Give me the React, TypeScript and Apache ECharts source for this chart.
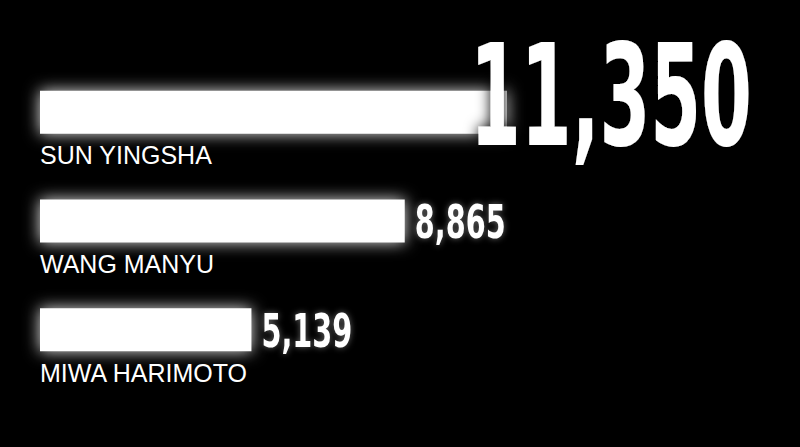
import React, { useEffect, useRef } from "react";
import * as echarts from "echarts";

const players = ["SUN YINGSHA", "WANG MANYU", "MIWA HARIMOTO"];
const points = [11350, 8865, 5139];
const axisMax = 17500;

export default function App() {
  const ref = useRef<HTMLDivElement>(null);
  useEffect(() => {
    const chart = echarts.init(ref.current!, null, { renderer: "svg" });
    const data = points.map((v, i) => [v, i]);
    const numFont = "'DejaVu Sans Condensed', 'DejaVu Sans', sans-serif";
    chart.setOption({
      animation: false,
      backgroundColor: "#000",
      grid: { left: 40, right: 40, top: 58, height: 326 },
      xAxis: { type: "value", min: 0, max: axisMax, show: false },
      yAxis: { type: "category", data: players, inverse: true, show: false },
      series: [
        {
          type: "custom",
          data,
          encode: { x: 0, y: 1 },
          renderItem: (params: any, api: any) => {
            const i = api.value(1);
            const v = api.value(0);
            const s = api.coord([0, i]);
            const e = api.coord([v, i]);
            const h = 43;
            const big = params.dataIndex === 0;
            const txt = Number(v).toLocaleString("en-US");
            return {
              type: "group",
              children: [
                {
                  type: "rect",
                  shape: { x: s[0], y: s[1] - h / 2, width: e[0] - s[0], height: h },
                  style: { fill: "#fff", shadowBlur: 16, shadowColor: "rgba(255,255,255,0.9)" },
                },
                big
                  ? {
                      type: "text",
                      x: e[0] - 37,
                      y: s[1] - 16,
                      scaleX: 0.58,
                      style: {
                        text: txt,
                        fill: "#fff",
                        font: `bold 140px ${numFont}`,
                        textAlign: "left",
                        textVerticalAlign: "middle",
                        textShadowBlur: 14,
                        textShadowColor: "#000",
                      },
                    }
                  : {
                      type: "text",
                      x: e[0] + 10,
                      y: s[1] + 1,
                      scaleX: 0.68,
                      style: {
                        text: txt,
                        fill: "#fff",
                        font: `bold 47px ${numFont}`,
                        textAlign: "left",
                        textVerticalAlign: "middle",
                        textShadowBlur: 6,
                        textShadowColor: "rgba(255,255,255,0.4)",
                      },
                    },
                {
                  type: "text",
                  x: s[0],
                  y: s[1] + 43,
                  style: {
                    text: players[i],
                    fill: "#fff",
                    font: "normal 25px 'Liberation Sans', Arial, sans-serif",
                    textAlign: "left",
                    textVerticalAlign: "middle",
                  },
                },
              ],
            };
          },
        },
      ],
    });
    return () => chart.dispose();
  }, []);
  return (
    <div
      ref={ref}
      style={{ position: "fixed", left: 0, top: 0, width: 800, height: 447 }}
    />
  );
}
